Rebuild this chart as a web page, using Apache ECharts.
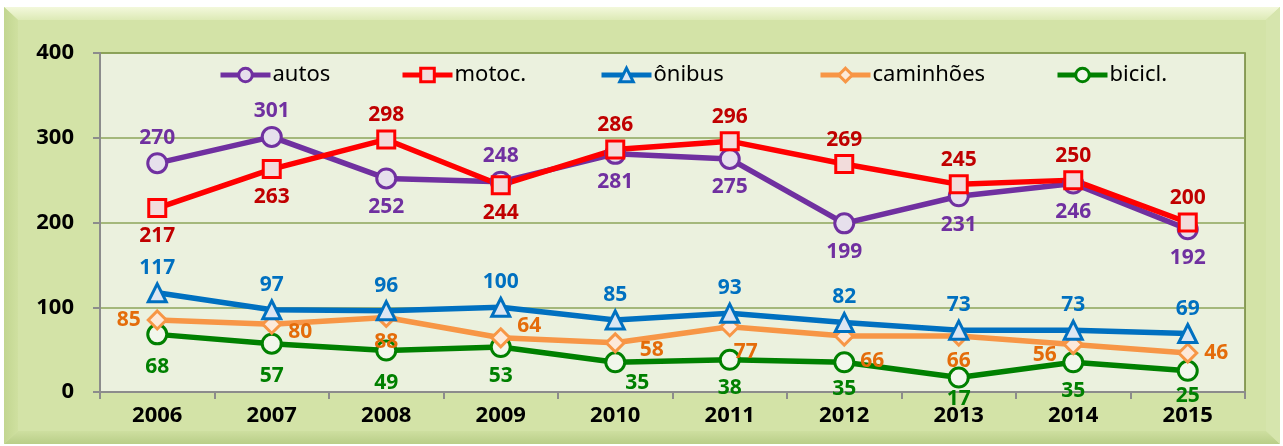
<!DOCTYPE html>
<html>
<head>
<meta charset="utf-8">
<script src="https://cdn.jsdelivr.net/npm/echarts@6/dist/echarts.min.js"></script>
<style>
  html, body { margin: 0; padding: 0; background: #fff; }
  #chart { width: 1283px; height: 446px; }
</style>
</head>
<body>
<div id="chart"></div>
<script>
// dados do gráfico
var anos = ['2006', '2007', '2008', '2009', '2010', '2011', '2012', '2013', '2014', '2015'];
var autos = [270, 301, 252, 248, 281, 275, 199, 231, 246, 192];
var motoc = [217, 263, 298, 244, 286, 296, 269, 245, 250, 200];
var onibus = [117, 97, 96, 100, 85, 93, 82, 73, 73, 69];
var caminhoes = [85, 80, 88, 64, 58, 77, 66, 66, 56, 46];
var bicicl = [68, 57, 49, 53, 35, 38, 35, 17, 35, 25];
var yTicks = [0, 100, 200, 300, 400];

// posição dos rótulos (estilo, não dados)
var posAutos = ['top', 'top', 'bottom', 'top', 'bottom', 'bottom', 'bottom', 'bottom', 'bottom', 'bottom'];
var posMotoc = ['bottom', 'bottom', 'top', 'bottom', 'top', 'top', 'top', 'top', 'top', 'top'];
var posCam = ['left', 'right', 'bottom', 'right', 'right', 'bottom', 'bottom', 'bottom', 'left', 'right'];
var offCam = [[0, 0], [0, 8], [0, -3], [0, -12], [8, 7], [16, -3], [28, -3], [0, -3], [0, 10], [0, 0]];
var offBic = [[0, 4], [0, 4], [0, 4], [0, 0], [22, -8], [0, 0], [0, -2], [0, -7], [0, 0], [0, -3]];

var FONT = 'Noto Sans';
var chart = echarts.init(document.getElementById('chart'));

function rotulo(pos, cor, off) {
    var d = pos === 'top' ? 4 : (pos === 'bottom' ? 7 : 6);
    return {
        show: true,
        position: pos,
        distance: d,
        offset: off || [0, 0],
        color: cor,
        fontFamily: FONT,
        fontWeight: 'bold',
        fontSize: 21
    };
}

function serie(nome, valores, cor, corRot, simbolo, tam, preench, posicoes, offs) {
    return {
        name: nome,
        type: 'line',
        data: valores.map(function (v, i) {
            return {
                value: v,
                label: rotulo(posicoes[i], corRot, offs ? offs[i] : null)
            };
        }),
        symbol: simbolo,
        symbolSize: tam,
        showAllSymbol: true,
        lineStyle: { color: cor, width: 5.5 },
        itemStyle: { color: preench, borderColor: cor, borderWidth: 3 },
        emphasis: { disabled: true },
        z: 3
    };
}

function todos(p) {
    return anos.map(function () { return p; });
}

function legenda(nome, x) {
    return {
        data: [nome],
        left: x,
        top: 64,
        itemWidth: 50,
        itemHeight: 17,
        itemGap: 0,
        padding: 0,
        lineStyle: { width: 5 },
        itemStyle: { borderWidth: 3 },
        textStyle: { fontFamily: FONT, fontSize: 22, color: '#000', padding: [0, 0, 0, -3] }
    };
}

var option = {
    animation: false,
    backgroundColor: '#fff',
    graphic: [
        { type: 'rect', shape: { x: 4, y: 7, width: 1276, height: 437 }, style: { fill: '#D3E3A7' }, z: -10 },
        { type: 'polygon', shape: { points: [[4, 7], [1280, 7], [1266, 20], [18, 20]] },
          style: { fill: new echarts.graphic.LinearGradient(0, 0, 0, 1, [{ offset: 0, color: '#F3F8DC' }, { offset: 1, color: '#DDEAB6' }]) }, z: -9 },
        { type: 'polygon', shape: { points: [[4, 7], [18, 20], [18, 431], [4, 444]] },
          style: { fill: new echarts.graphic.LinearGradient(0, 0, 1, 0, [{ offset: 0, color: '#C2D690' }, { offset: 1, color: '#CFE0A0' }]) }, z: -9 },
        { type: 'polygon', shape: { points: [[4, 444], [18, 431], [1266, 431], [1280, 444]] },
          style: { fill: new echarts.graphic.LinearGradient(0, 0, 0, 1, [{ offset: 0, color: '#CEDFA0' }, { offset: 1, color: '#B9CE88' }]) }, z: -9 },
        { type: 'polygon', shape: { points: [[1280, 7], [1280, 444], [1266, 431], [1266, 20]] },
          style: { fill: '#D6E5AD' }, z: -9 }
    ],
    grid: {
        left: 100, right: 38, top: 53, bottom: 54,
        show: true,
        backgroundColor: '#EBF1DE',
        borderColor: '#6E8236',
        borderWidth: 1.5
    },
    legend: [
        legenda('autos', 218),
        legenda('motoc.', 400),
        legenda('ônibus', 599),
        legenda('caminhões', 818),
        legenda('bicicl.', 1055)
    ],
    xAxis: {
        type: 'category',
        data: anos,
        boundaryGap: true,
        axisLine: { lineStyle: { color: '#8C8C8C', width: 2 } },
        axisTick: { show: true, length: 7, lineStyle: { color: '#8C8C8C', width: 2 } },
        axisLabel: { color: '#000', fontFamily: FONT, fontWeight: 'bold', fontSize: 22, margin: 13 },
        splitLine: { show: false }
    },
    yAxis: {
        type: 'value',
        min: yTicks[0],
        max: yTicks[yTicks.length - 1],
        interval: 100,
        axisLine: { show: true, lineStyle: { color: '#8C8C8C', width: 2 } },
        axisTick: { show: true, length: 7, lineStyle: { color: '#8C8C8C', width: 2 } },
        axisLabel: { color: '#000', fontFamily: FONT, fontWeight: 'bold', fontSize: 22, margin: 26 },
        splitLine: { show: true, lineStyle: { color: '#8DA45A', width: 1.5 } }
    },
    series: [
        serie('bicicl.', bicicl, '#008000', '#008000', 'circle', 19, '#F2F7EC', todos('bottom'), offBic),
        serie('caminhões', caminhoes, '#F79646', '#E46C0A', 'diamond', 18, '#FDE9D9', posCam, offCam),
        serie('ônibus', onibus, '#0070C0', '#0070C0', 'triangle', 18, '#DCE6F2', todos('top')),
        serie('autos', autos, '#7030A0', '#7030A0', 'circle', 19, '#E6E0EC', posAutos),
        serie('motoc.', motoc, '#FF0000', '#C00000', 'rect', 17, '#F2DCDB', posMotoc)
    ]
};

chart.setOption(option);
</script>
</body>
</html>
